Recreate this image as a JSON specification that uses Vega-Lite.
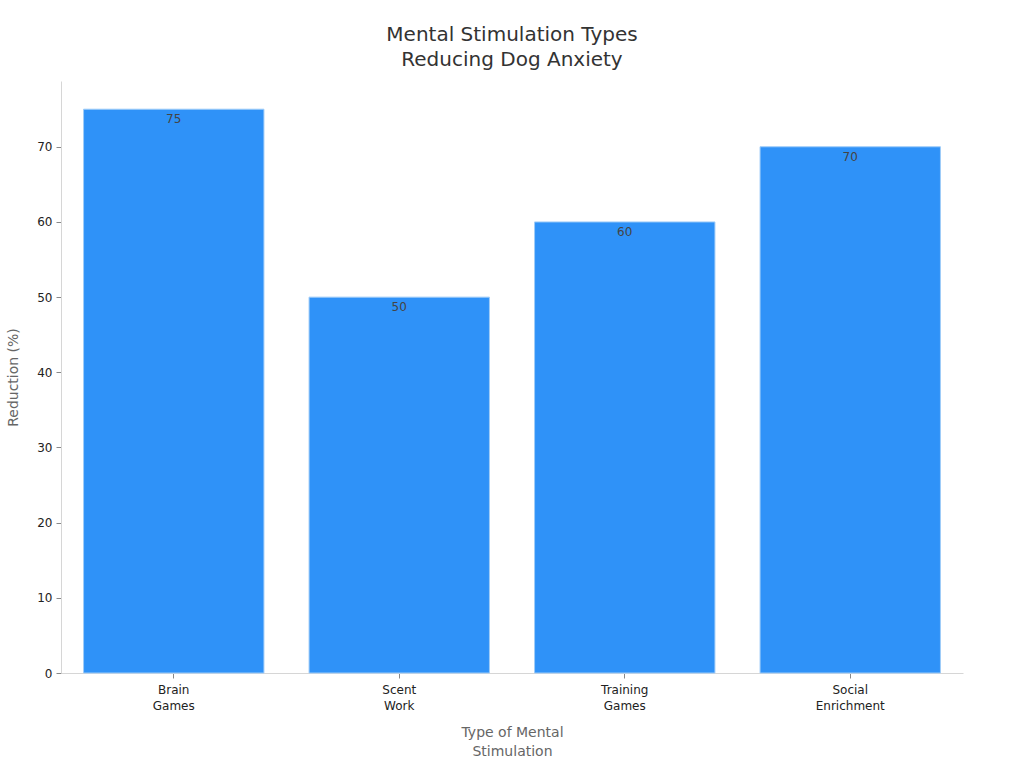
{
  "$schema": "https://vega.github.io/schema/vega-lite/v6.json",
  "width": 902,
  "height": 592,
  "autosize": {"type": "none"},
  "padding": {"left": 61, "top": 81, "right": 61, "bottom": 95},
  "background": "white",
  "config": {
    "font": "DejaVu Sans",
    "view": {"stroke": null},
    "axis": {"grid": false, "domainColor": "#d6d6d6", "tickColor": "#888888", "labelColor": "#222222", "titleColor": "#666666", "labelFontSize": 12, "titleFontSize": 14, "titleFontWeight": "normal"}
  },
  "title": {
    "text": ["Mental Stimulation Types", "Reducing Dog Anxiety"],
    "fontSize": 20,
    "fontWeight": "normal",
    "color": "#333333",
    "lineHeight": 25,
    "offset": 11,
    "anchor": "middle"
  },
  "data": {
    "values": [
      {"type": "Brain Games", "reduction": 75},
      {"type": "Scent Work", "reduction": 50},
      {"type": "Training Games", "reduction": 60},
      {"type": "Social Enrichment", "reduction": 70}
    ]
  },
  "encoding": {
    "x": {
      "field": "type",
      "type": "nominal",
      "sort": null,
      "scale": {"paddingInner": 0.2, "paddingOuter": 0.1},
      "axis": {
        "title": ["Type of Mental", "Stimulation"],
        "titleLineHeight": 19,
        "titlePadding": 14,
        "labelAngle": 0,
        "labelPadding": 6,
        "labelLineHeight": 16,
        "labelExpr": "split(datum.label, ' ')"
      }
    },
    "y": {
      "field": "reduction",
      "type": "quantitative",
      "scale": {"domain": [0, 78.75], "nice": false},
      "axis": {"title": "Reduction (%)", "values": [0, 10, 20, 30, 40, 50, 60, 70], "titlePadding": 16, "labelPadding": 4}
    }
  },
  "layer": [
    {
      "mark": {"type": "bar", "color": "#2f92f8", "stroke": "#9fccf8", "strokeWidth": 1}
    },
    {
      "mark": {"type": "text", "baseline": "top", "dy": 5, "fontSize": 12, "color": "#444444"},
      "encoding": {"text": {"field": "reduction", "type": "quantitative"}}
    }
  ]
}
